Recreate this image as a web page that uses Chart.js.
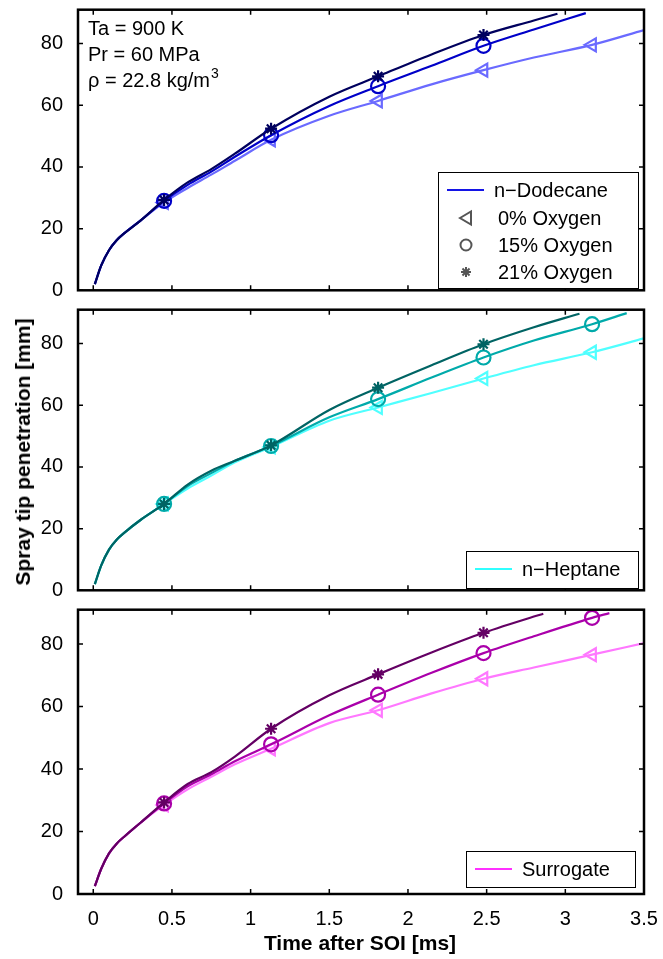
<!DOCTYPE html>
<html>
<head>
<meta charset="utf-8">
<script src="https://cdn.jsdelivr.net/npm/chart.js@4"></script>
<style>
body { margin: 0; background: #fff; width: 663px; height: 959px; position: relative; overflow: hidden; font-family: "Liberation Sans", Arial, sans-serif; }
canvas { position: absolute; left: 0; }
#yTitle { position: absolute; left: 23px; top: 452px; transform: translate(-50%, -50%) rotate(-90deg); font-weight: bold; font-size: 21px; white-space: nowrap; color: #000; }
#xTitle { position: absolute; left: 360px; top: 943px; transform: translate(-50%, -50%); font-weight: bold; font-size: 21px; white-space: nowrap; color: #000; }
</style>
</head>
<body>
<canvas id="top" width="663" height="300" style="top:0"></canvas>
<canvas id="mid" width="663" height="300" style="top:300px"></canvas>
<canvas id="bot" width="663" height="359" style="top:600px"></canvas>
<div id="yTitle">Spray tip penetration [mm]</div>
<div id="xTitle">Time after SOI [ms]</div>
<script>
// sumbu
const xTicks = [0, 0.5, 1, 1.5, 2, 2.5, 3, 3.5];
const xTickLabels = ['0', '0.5', '1', '1.5', '2', '2.5', '3', '3.5'];
const yTicks = [0, 20, 40, 60, 80];

// waktu titik kurva (ms) dan waktu marker
const timeGrid = [0.01, 0.05, 0.1, 0.15, 0.2, 0.3, 0.45, 0.6, 0.75, 0.9, 1.13, 1.5, 1.81, 2.15, 2.48, 2.8, 3.17];
const markerTime = [0.45, 1.13, 1.81, 2.48, 3.17];

// n-Dodecane: 0%, 15%, 21% oksigen
const dodecane0 = [2, 8, 13, 16.3, 18.6, 22.6, 28.5, 33.2, 37.5, 42, 48.8, 56.6, 61.4, 66.8, 71.4, 75.5, 79.6];
const dodecane15 = [2, 8, 13, 16.3, 18.6, 22.6, 29, 34.2, 38.5, 43.3, 50.3, 59.8, 66.2, 72.8, 79.3, 84.6, null];
const dodecane21 = [2, 8, 13, 16.3, 18.6, 22.6, 29.3, 35, 39.3, 44.3, 52.4, 62.8, 69.4, 76.5, 82.8, 87.5, null];
const dodecaneEndTime = [3.5, 3.13, 2.95];
const dodecaneEndValue = [84.4, 89.9, 89.7];

// n-Heptane
const heptane0 = [2, 8, 13.2, 16.5, 18.8, 22.8, 28, 33, 37.2, 41.5, 46.5, 55, 59.3, 64, 68.7, 73, 77.2];
const heptane15 = [2, 8, 13.2, 16.5, 18.8, 22.8, 28, 33.8, 38, 42, 46.8, 56.1, 62, 69, 75.5, 81, 86.3];
const heptane21 = [2, 8, 13.2, 16.5, 18.8, 22.8, 28, 34.3, 38.8, 42, 47, 58.5, 65.7, 73, 79.8, 85.3, null];
const heptaneEndTime = [3.5, 3.39, 3.09];
const heptaneEndValue = [81.7, 89.9, 89.7];

// Surrogate
const surrogate0 = [2.5, 8, 13, 16.2, 18.5, 22.8, 28.5, 33.5, 37.5, 41.5, 46.5, 54.7, 58.8, 64.2, 68.9, 72.5, 76.6];
const surrogate15 = [2.5, 8, 13, 16.2, 18.5, 22.8, 29, 34.5, 38.3, 42.5, 47.9, 57.2, 63.8, 70.8, 77.1, 82.5, 88.4];
const surrogate21 = [2.5, 8, 13, 16.2, 18.5, 22.8, 29.3, 35.2, 39, 44, 52.9, 63.6, 70.3, 77.3, 83.6, 88.8, null];
const surrogateEndTime = [3.5, 3.28, 2.86];
const surrogateEndValue = [80.3, 89.9, 89.7];

const markerStyles = ['triangle', 'circle', 'star'];
const markerRadius = [7.5, 7, 6];
const markerRotation = [-90, 0, 0];

const FONT = '"Liberation Sans", Arial, sans-serif';

function drawMarker(ctx, style, x, y, color) {
    ctx.save();
    ctx.strokeStyle = color;
    ctx.lineWidth = 2;
    ctx.beginPath();
    if (style === 'triangle') {
        ctx.moveTo(x - 6, y);
        ctx.lineTo(x + 5, y - 6.5);
        ctx.lineTo(x + 5, y + 6.5);
        ctx.closePath();
    } else if (style === 'circle') {
        ctx.arc(x, y, 5.5, 0, Math.PI * 2);
    } else {
        for (let a = 0; a < 4; a++) {
            const ang = a * Math.PI / 4;
            ctx.moveTo(x - 5 * Math.cos(ang), y - 5 * Math.sin(ang));
            ctx.lineTo(x + 5 * Math.cos(ang), y + 5 * Math.sin(ang));
        }
    }
    ctx.stroke();
    ctx.restore();
}

function makePanel(id, curves, endTime, endValue, colors, showX, decor) {
    const datasets = [];
    curves.forEach((vals, i) => {
        const pts = [];
        timeGrid.forEach((t, k) => { if (vals[k] !== null) pts.push({ x: t, y: vals[k] }); });
        pts.push({ x: endTime[i], y: endValue[i] });
        datasets.push({
            data: pts, showLine: true, borderColor: colors[i], borderWidth: 2.2,
            pointRadius: 0, cubicInterpolationMode: 'monotone', order: 3 - i
        });
        const marks = [];
        markerTime.forEach(t => {
            const k = timeGrid.indexOf(t);
            if (vals[k] !== null) marks.push({ x: t, y: vals[k] });
        });
        datasets.push({
            data: marks, showLine: false, borderColor: colors[i], backgroundColor: 'rgba(0,0,0,0)',
            pointStyle: markerStyles[i], pointRadius: markerRadius[i], pointRotation: markerRotation[i],
            pointBorderWidth: 2.2, order: 3 - i
        });
    });

    const framePlugin = {
        id: 'frame',
        afterDraw(chart) {
            const ctx = chart.ctx;
            const a = chart.chartArea;
            const xs = chart.scales.x, ys = chart.scales.y;
            ctx.save();
            ctx.strokeStyle = '#000';
            ctx.lineWidth = 1.5;
            ctx.beginPath();
            xTicks.forEach(v => {
                const px = xs.getPixelForValue(v);
                ctx.moveTo(px, a.bottom); ctx.lineTo(px, a.bottom - 5);
                ctx.moveTo(px, a.top); ctx.lineTo(px, a.top + 5);
            });
            yTicks.forEach(v => {
                const py = ys.getPixelForValue(v);
                ctx.moveTo(a.left, py); ctx.lineTo(a.left + 5, py);
                ctx.moveTo(a.right, py); ctx.lineTo(a.right - 5, py);
            });
            ctx.stroke();
            ctx.lineWidth = 2.5;
            ctx.strokeRect(a.left, a.top, a.right - a.left, a.bottom - a.top);
            ctx.restore();
            decor(ctx);
        }
    };

    new Chart(document.getElementById(id), {
        type: 'scatter',
        data: { datasets: datasets },
        options: {
            responsive: false,
            animation: false,
            events: [],
            devicePixelRatio: 1,
            layout: { padding: { top: 9, right: 19, left: 0, bottom: 0 } },
            plugins: { legend: { display: false }, tooltip: { enabled: false } },
            scales: {
                x: {
                    type: 'linear', min: -0.097, max: 3.5,
                    grid: { display: false }, border: { display: false },
                    afterBuildTicks: s => { s.ticks = xTicks.map(v => ({ value: v })); },
                    afterFit: s => { s.height = showX ? 65 : 6; s.paddingLeft = 0; s.paddingRight = 0; },
                    ticks: {
                        display: showX, color: '#000', padding: 5, maxRotation: 0,
                        font: { family: FONT, size: 20 },
                        callback: v => xTickLabels[xTicks.indexOf(v)]
                    }
                },
                y: {
                    min: 0, max: 91,
                    grid: { display: false }, border: { display: false },
                    afterBuildTicks: s => { s.ticks = yTicks.map(v => ({ value: v })); },
                    afterFit: s => { s.width = 78; s.paddingTop = 0; s.paddingBottom = 0; },
                    ticks: { color: '#000', padding: 7, font: { family: FONT, size: 20 } }
                }
            }
        },
        plugins: [framePlugin]
    });
}

function legendBox(ctx, box, lineColor, label, rows) {
    ctx.save();
    ctx.fillStyle = '#fff';
    ctx.fillRect(box[0], box[1], box[2] - box[0], box[3] - box[1]);
    ctx.strokeStyle = '#000';
    ctx.lineWidth = 1;
    ctx.strokeRect(box[0] + 0.5, box[1] + 0.5, box[2] - box[0], box[3] - box[1]);
    ctx.font = '20px ' + FONT;
    ctx.fillStyle = '#000';
    ctx.textBaseline = 'middle';
    const y0 = box[1] + 18;
    ctx.strokeStyle = lineColor;
    ctx.lineWidth = 2;
    ctx.beginPath();
    ctx.moveTo(box[0] + 9, y0); ctx.lineTo(box[0] + 46, y0);
    ctx.stroke();
    ctx.fillText(label, box[0] + 56, y0 + 1);
    rows.forEach((r, i) => {
        const y = y0 + 28 + i * 27;
        drawMarker(ctx, markerStyles[i], box[0] + 28, y, '#555');
        ctx.fillText(r, box[0] + 60, y + 1);
    });
    ctx.restore();
}

makePanel('top', [dodecane0, dodecane15, dodecane21], dodecaneEndTime, dodecaneEndValue,
    ['#6a6aff', '#0000c8', '#00005e'], false, ctx => {
        ctx.save();
        ctx.font = '20px ' + FONT;
        ctx.fillStyle = '#000';
        ctx.fillText('Ta = 900 K', 88, 35);
        ctx.fillText('Pr = 60 MPa', 88, 61);
        ctx.fillText('ρ = 22.8 kg/m', 88, 87);
        const w = ctx.measureText('ρ = 22.8 kg/m').width;
        ctx.font = '14px ' + FONT;
        ctx.fillText('3', 88 + w + 1, 78);
        ctx.restore();
        legendBox(ctx, [438, 172, 638, 288], '#1414e6', 'n−Dodecane', ['0% Oxygen', '15% Oxygen', '21% Oxygen']);
    });

makePanel('mid', [heptane0, heptane15, heptane21], heptaneEndTime, heptaneEndValue,
    ['#50ffff', '#00aaaa', '#006464'], false, ctx => {
        legendBox(ctx, [466, 251, 638, 288], '#30ffff', 'n−Heptane', []);
    });

makePanel('bot', [surrogate0, surrogate15, surrogate21], surrogateEndTime, surrogateEndValue,
    ['#ff78ff', '#aa00aa', '#640064'], true, ctx => {
        legendBox(ctx, [466, 251, 635, 287], '#ff30ff', 'Surrogate', []);
    });
</script>
</body>
</html>
